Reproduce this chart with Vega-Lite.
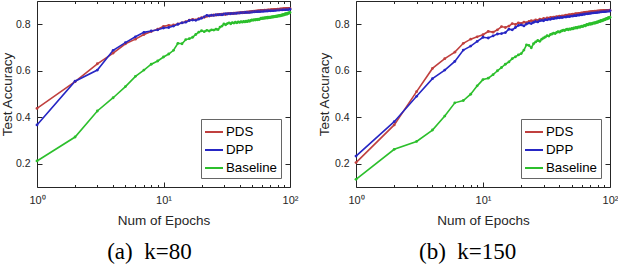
{
  "$schema": "https://vega.github.io/schema/vega-lite/v6.json",
  "padding": {"left": 0, "top": 0, "right": 0, "bottom": 0},
  "background": "white",
  "datasets": {
    "a": [
      {"e":1,"PDS":0.438,"DPP":0.367,"Baseline":0.212},
      {"e":2,"PDS":0.553,"DPP":0.555,"Baseline":0.315},
      {"e":3,"PDS":0.630,"DPP":0.603,"Baseline":0.427},
      {"e":4,"PDS":0.676,"DPP":0.688,"Baseline":0.484},
      {"e":5,"PDS":0.716,"DPP":0.721,"Baseline":0.532},
      {"e":6,"PDS":0.736,"DPP":0.746,"Baseline":0.576},
      {"e":7,"PDS":0.756,"DPP":0.765,"Baseline":0.603},
      {"e":8,"PDS":0.769,"DPP":0.771,"Baseline":0.628},
      {"e":9,"PDS":0.779,"DPP":0.776,"Baseline":0.642},
      {"e":10,"PDS":0.791,"DPP":0.784,"Baseline":0.659},
      {"e":11,"PDS":0.795,"DPP":0.786,"Baseline":0.672},
      {"e":12,"PDS":0.797,"DPP":0.792,"Baseline":0.688},
      {"e":13,"PDS":0.801,"DPP":0.800,"Baseline":0.718},
      {"e":14,"PDS":0.806,"DPP":0.806,"Baseline":0.716},
      {"e":15,"PDS":0.811,"DPP":0.809,"Baseline":0.734},
      {"e":16,"PDS":0.818,"DPP":0.816,"Baseline":0.738},
      {"e":17,"PDS":0.821,"DPP":0.818,"Baseline":0.744},
      {"e":18,"PDS":0.819,"DPP":0.817,"Baseline":0.756},
      {"e":19,"PDS":0.824,"DPP":0.822,"Baseline":0.766},
      {"e":20,"PDS":0.828,"DPP":0.826,"Baseline":0.772},
      {"e":21,"PDS":0.830,"DPP":0.832,"Baseline":0.768},
      {"e":22,"PDS":0.834,"DPP":0.838,"Baseline":0.774},
      {"e":23,"PDS":0.836,"DPP":0.836,"Baseline":0.771},
      {"e":24,"PDS":0.838,"DPP":0.839,"Baseline":0.776},
      {"e":25,"PDS":0.840,"DPP":0.838,"Baseline":0.775},
      {"e":26,"PDS":0.839,"DPP":0.841,"Baseline":0.779},
      {"e":27,"PDS":0.842,"DPP":0.840,"Baseline":0.777},
      {"e":28,"PDS":0.841,"DPP":0.842,"Baseline":0.788},
      {"e":29,"PDS":0.843,"DPP":0.841,"Baseline":0.792},
      {"e":30,"PDS":0.844,"DPP":0.843,"Baseline":0.801},
      {"e":31,"PDS":0.842,"DPP":0.845,"Baseline":0.798},
      {"e":32,"PDS":0.846,"DPP":0.844,"Baseline":0.803},
      {"e":33,"PDS":0.845,"DPP":0.846,"Baseline":0.806},
      {"e":34,"PDS":0.847,"DPP":0.845,"Baseline":0.802},
      {"e":35,"PDS":0.846,"DPP":0.847,"Baseline":0.807},
      {"e":36,"PDS":0.848,"DPP":0.846,"Baseline":0.805},
      {"e":37,"PDS":0.847,"DPP":0.848,"Baseline":0.809},
      {"e":38,"PDS":0.849,"DPP":0.847,"Baseline":0.806},
      {"e":39,"PDS":0.848,"DPP":0.849,"Baseline":0.810},
      {"e":40,"PDS":0.850,"DPP":0.848,"Baseline":0.808},
      {"e":41,"PDS":0.849,"DPP":0.850,"Baseline":0.811},
      {"e":42,"PDS":0.851,"DPP":0.849,"Baseline":0.809},
      {"e":43,"PDS":0.850,"DPP":0.851,"Baseline":0.812},
      {"e":44,"PDS":0.852,"DPP":0.850,"Baseline":0.810},
      {"e":45,"PDS":0.851,"DPP":0.852,"Baseline":0.813},
      {"e":46,"PDS":0.853,"DPP":0.851,"Baseline":0.811},
      {"e":47,"PDS":0.852,"DPP":0.852,"Baseline":0.815},
      {"e":48,"PDS":0.854,"DPP":0.851,"Baseline":0.813},
      {"e":49,"PDS":0.853,"DPP":0.853,"Baseline":0.816},
      {"e":50,"PDS":0.855,"DPP":0.852,"Baseline":0.819},
      {"e":51,"PDS":0.854,"DPP":0.854,"Baseline":0.817},
      {"e":52,"PDS":0.856,"DPP":0.853,"Baseline":0.820},
      {"e":53,"PDS":0.855,"DPP":0.855,"Baseline":0.818},
      {"e":54,"PDS":0.857,"DPP":0.854,"Baseline":0.821},
      {"e":55,"PDS":0.856,"DPP":0.855,"Baseline":0.819},
      {"e":56,"PDS":0.858,"DPP":0.855,"Baseline":0.822},
      {"e":57,"PDS":0.857,"DPP":0.856,"Baseline":0.820},
      {"e":58,"PDS":0.858,"DPP":0.855,"Baseline":0.823},
      {"e":59,"PDS":0.859,"DPP":0.857,"Baseline":0.826},
      {"e":60,"PDS":0.858,"DPP":0.856,"Baseline":0.824},
      {"e":61,"PDS":0.860,"DPP":0.857,"Baseline":0.827},
      {"e":62,"PDS":0.859,"DPP":0.856,"Baseline":0.825},
      {"e":63,"PDS":0.861,"DPP":0.858,"Baseline":0.828},
      {"e":64,"PDS":0.860,"DPP":0.857,"Baseline":0.826},
      {"e":65,"PDS":0.861,"DPP":0.858,"Baseline":0.829},
      {"e":66,"PDS":0.860,"DPP":0.857,"Baseline":0.827},
      {"e":67,"PDS":0.862,"DPP":0.859,"Baseline":0.830},
      {"e":68,"PDS":0.861,"DPP":0.858,"Baseline":0.828},
      {"e":69,"PDS":0.862,"DPP":0.859,"Baseline":0.831},
      {"e":70,"PDS":0.861,"DPP":0.858,"Baseline":0.829},
      {"e":71,"PDS":0.863,"DPP":0.860,"Baseline":0.832},
      {"e":72,"PDS":0.862,"DPP":0.859,"Baseline":0.830},
      {"e":73,"PDS":0.863,"DPP":0.860,"Baseline":0.833},
      {"e":74,"PDS":0.862,"DPP":0.859,"Baseline":0.831},
      {"e":75,"PDS":0.864,"DPP":0.860,"Baseline":0.834},
      {"e":76,"PDS":0.863,"DPP":0.861,"Baseline":0.832},
      {"e":77,"PDS":0.864,"DPP":0.860,"Baseline":0.835},
      {"e":78,"PDS":0.863,"DPP":0.861,"Baseline":0.833},
      {"e":79,"PDS":0.864,"DPP":0.862,"Baseline":0.836},
      {"e":80,"PDS":0.865,"DPP":0.861,"Baseline":0.834},
      {"e":81,"PDS":0.864,"DPP":0.862,"Baseline":0.837},
      {"e":82,"PDS":0.865,"DPP":0.861,"Baseline":0.835},
      {"e":83,"PDS":0.864,"DPP":0.862,"Baseline":0.838},
      {"e":84,"PDS":0.866,"DPP":0.863,"Baseline":0.836},
      {"e":85,"PDS":0.865,"DPP":0.862,"Baseline":0.839},
      {"e":86,"PDS":0.866,"DPP":0.863,"Baseline":0.838},
      {"e":87,"PDS":0.865,"DPP":0.862,"Baseline":0.841},
      {"e":88,"PDS":0.866,"DPP":0.863,"Baseline":0.839},
      {"e":89,"PDS":0.867,"DPP":0.864,"Baseline":0.842},
      {"e":90,"PDS":0.866,"DPP":0.863,"Baseline":0.840},
      {"e":91,"PDS":0.867,"DPP":0.864,"Baseline":0.843},
      {"e":92,"PDS":0.866,"DPP":0.863,"Baseline":0.845},
      {"e":93,"PDS":0.867,"DPP":0.864,"Baseline":0.843},
      {"e":94,"PDS":0.868,"DPP":0.865,"Baseline":0.846},
      {"e":95,"PDS":0.867,"DPP":0.864,"Baseline":0.844},
      {"e":96,"PDS":0.868,"DPP":0.865,"Baseline":0.847},
      {"e":97,"PDS":0.867,"DPP":0.864,"Baseline":0.849},
      {"e":98,"PDS":0.868,"DPP":0.865,"Baseline":0.847},
      {"e":99,"PDS":0.867,"DPP":0.866,"Baseline":0.850},
      {"e":100,"PDS":0.868,"DPP":0.865,"Baseline":0.851}
    ],
    "b": [
      {"e":1,"PDS":0.205,"DPP":0.233,"Baseline":0.133},
      {"e":2,"PDS":0.367,"DPP":0.381,"Baseline":0.262},
      {"e":3,"PDS":0.510,"DPP":0.490,"Baseline":0.296},
      {"e":4,"PDS":0.610,"DPP":0.566,"Baseline":0.345},
      {"e":5,"PDS":0.652,"DPP":0.603,"Baseline":0.405},
      {"e":6,"PDS":0.680,"DPP":0.640,"Baseline":0.462},
      {"e":7,"PDS":0.718,"DPP":0.689,"Baseline":0.472},
      {"e":8,"PDS":0.736,"DPP":0.706,"Baseline":0.499},
      {"e":9,"PDS":0.746,"DPP":0.726,"Baseline":0.535},
      {"e":10,"PDS":0.755,"DPP":0.744,"Baseline":0.562},
      {"e":11,"PDS":0.769,"DPP":0.741,"Baseline":0.568},
      {"e":12,"PDS":0.766,"DPP":0.750,"Baseline":0.583},
      {"e":13,"PDS":0.776,"DPP":0.758,"Baseline":0.600},
      {"e":14,"PDS":0.790,"DPP":0.760,"Baseline":0.614},
      {"e":15,"PDS":0.786,"DPP":0.764,"Baseline":0.628},
      {"e":16,"PDS":0.792,"DPP":0.779,"Baseline":0.638},
      {"e":17,"PDS":0.803,"DPP":0.776,"Baseline":0.652},
      {"e":18,"PDS":0.799,"DPP":0.786,"Baseline":0.660},
      {"e":19,"PDS":0.806,"DPP":0.795,"Baseline":0.668},
      {"e":20,"PDS":0.804,"DPP":0.797,"Baseline":0.674},
      {"e":21,"PDS":0.809,"DPP":0.793,"Baseline":0.689},
      {"e":22,"PDS":0.807,"DPP":0.801,"Baseline":0.711},
      {"e":23,"PDS":0.812,"DPP":0.805,"Baseline":0.709},
      {"e":24,"PDS":0.815,"DPP":0.803,"Baseline":0.699},
      {"e":25,"PDS":0.814,"DPP":0.808,"Baseline":0.716},
      {"e":26,"PDS":0.819,"DPP":0.812,"Baseline":0.724},
      {"e":27,"PDS":0.817,"DPP":0.810,"Baseline":0.730},
      {"e":28,"PDS":0.822,"DPP":0.815,"Baseline":0.727},
      {"e":29,"PDS":0.820,"DPP":0.817,"Baseline":0.736},
      {"e":30,"PDS":0.825,"DPP":0.815,"Baseline":0.741},
      {"e":31,"PDS":0.823,"DPP":0.820,"Baseline":0.745},
      {"e":32,"PDS":0.827,"DPP":0.819,"Baseline":0.751},
      {"e":33,"PDS":0.826,"DPP":0.822,"Baseline":0.749},
      {"e":34,"PDS":0.829,"DPP":0.821,"Baseline":0.756},
      {"e":35,"PDS":0.828,"DPP":0.825,"Baseline":0.758},
      {"e":36,"PDS":0.831,"DPP":0.824,"Baseline":0.762},
      {"e":37,"PDS":0.830,"DPP":0.827,"Baseline":0.760},
      {"e":38,"PDS":0.833,"DPP":0.826,"Baseline":0.765},
      {"e":39,"PDS":0.832,"DPP":0.829,"Baseline":0.768},
      {"e":40,"PDS":0.835,"DPP":0.828,"Baseline":0.766},
      {"e":41,"PDS":0.834,"DPP":0.830,"Baseline":0.770},
      {"e":42,"PDS":0.836,"DPP":0.829,"Baseline":0.772},
      {"e":43,"PDS":0.835,"DPP":0.831,"Baseline":0.775},
      {"e":44,"PDS":0.837,"DPP":0.832,"Baseline":0.773},
      {"e":45,"PDS":0.839,"DPP":0.831,"Baseline":0.777},
      {"e":46,"PDS":0.838,"DPP":0.833,"Baseline":0.779},
      {"e":47,"PDS":0.840,"DPP":0.834,"Baseline":0.776},
      {"e":48,"PDS":0.841,"DPP":0.833,"Baseline":0.780},
      {"e":49,"PDS":0.840,"DPP":0.835,"Baseline":0.778},
      {"e":50,"PDS":0.842,"DPP":0.836,"Baseline":0.782},
      {"e":51,"PDS":0.843,"DPP":0.835,"Baseline":0.780},
      {"e":52,"PDS":0.842,"DPP":0.837,"Baseline":0.784},
      {"e":53,"PDS":0.844,"DPP":0.838,"Baseline":0.783},
      {"e":54,"PDS":0.845,"DPP":0.837,"Baseline":0.786},
      {"e":55,"PDS":0.844,"DPP":0.839,"Baseline":0.784},
      {"e":56,"PDS":0.846,"DPP":0.840,"Baseline":0.787},
      {"e":57,"PDS":0.847,"DPP":0.839,"Baseline":0.789},
      {"e":58,"PDS":0.846,"DPP":0.841,"Baseline":0.787},
      {"e":59,"PDS":0.848,"DPP":0.842,"Baseline":0.790},
      {"e":60,"PDS":0.849,"DPP":0.841,"Baseline":0.792},
      {"e":61,"PDS":0.848,"DPP":0.843,"Baseline":0.790},
      {"e":62,"PDS":0.850,"DPP":0.844,"Baseline":0.793},
      {"e":63,"PDS":0.851,"DPP":0.843,"Baseline":0.795},
      {"e":64,"PDS":0.850,"DPP":0.845,"Baseline":0.793},
      {"e":65,"PDS":0.852,"DPP":0.846,"Baseline":0.797},
      {"e":66,"PDS":0.851,"DPP":0.845,"Baseline":0.799},
      {"e":67,"PDS":0.852,"DPP":0.847,"Baseline":0.797},
      {"e":68,"PDS":0.853,"DPP":0.846,"Baseline":0.800},
      {"e":69,"PDS":0.852,"DPP":0.848,"Baseline":0.802},
      {"e":70,"PDS":0.854,"DPP":0.847,"Baseline":0.800},
      {"e":71,"PDS":0.853,"DPP":0.849,"Baseline":0.803},
      {"e":72,"PDS":0.854,"DPP":0.848,"Baseline":0.801},
      {"e":73,"PDS":0.855,"DPP":0.850,"Baseline":0.804},
      {"e":74,"PDS":0.854,"DPP":0.849,"Baseline":0.806},
      {"e":75,"PDS":0.855,"DPP":0.851,"Baseline":0.804},
      {"e":76,"PDS":0.856,"DPP":0.850,"Baseline":0.807},
      {"e":77,"PDS":0.855,"DPP":0.851,"Baseline":0.805},
      {"e":78,"PDS":0.856,"DPP":0.852,"Baseline":0.808},
      {"e":79,"PDS":0.855,"DPP":0.851,"Baseline":0.810},
      {"e":80,"PDS":0.857,"DPP":0.852,"Baseline":0.808},
      {"e":81,"PDS":0.856,"DPP":0.853,"Baseline":0.811},
      {"e":82,"PDS":0.857,"DPP":0.852,"Baseline":0.813},
      {"e":83,"PDS":0.856,"DPP":0.853,"Baseline":0.811},
      {"e":84,"PDS":0.858,"DPP":0.854,"Baseline":0.814},
      {"e":85,"PDS":0.857,"DPP":0.853,"Baseline":0.816},
      {"e":86,"PDS":0.858,"DPP":0.854,"Baseline":0.814},
      {"e":87,"PDS":0.857,"DPP":0.855,"Baseline":0.817},
      {"e":88,"PDS":0.858,"DPP":0.854,"Baseline":0.819},
      {"e":89,"PDS":0.859,"DPP":0.855,"Baseline":0.817},
      {"e":90,"PDS":0.858,"DPP":0.856,"Baseline":0.820},
      {"e":91,"PDS":0.859,"DPP":0.855,"Baseline":0.822},
      {"e":92,"PDS":0.858,"DPP":0.856,"Baseline":0.820},
      {"e":93,"PDS":0.859,"DPP":0.857,"Baseline":0.823},
      {"e":94,"PDS":0.860,"DPP":0.856,"Baseline":0.825},
      {"e":95,"PDS":0.859,"DPP":0.857,"Baseline":0.823},
      {"e":96,"PDS":0.860,"DPP":0.858,"Baseline":0.826},
      {"e":97,"PDS":0.859,"DPP":0.857,"Baseline":0.828},
      {"e":98,"PDS":0.860,"DPP":0.858,"Baseline":0.826},
      {"e":99,"PDS":0.861,"DPP":0.857,"Baseline":0.829},
      {"e":100,"PDS":0.860,"DPP":0.858,"Baseline":0.830}
    ]
  },
  "spacing": 17,
  "resolve": {"legend": {"color": "independent"}, "scale": {"color": "independent"}},
  "hconcat": [
    {
      "width": 253,
      "height": 186,
      "data": {"name": "a"},
      "transform": [{"fold": ["PDS", "DPP", "Baseline"], "as": ["method", "acc"]}],
      "title": {"text": "(a)\u2002k=80", "orient": "bottom", "anchor": "middle", "frame": "bounds", "font": "Liberation Serif", "fontSize": 23, "fontWeight": "normal", "color": "black", "offset": 14},
      "layer": [
        {
          "mark": {"type": "line", "strokeWidth": 1.6, "point": {"filled": true, "size": 8}},
          "encoding": {
            "x": {"field": "e", "type": "quantitative", "scale": {"type": "log", "domain": [1, 100]},
              "axis": {"orient": "bottom", "title": "Num of Epochs", "values": [1,2,3,4,5,6,7,8,9,10,20,30,40,50,60,70,80,90,100],
                "labelExpr": "datum.value == 1 ? '10⁰' : datum.value == 10 ? '10¹' : datum.value == 100 ? '10²' : ''",
                "labelOverlap": false, "labelFlush": false, "labelPadding": 12, "labelFontSize": 11, "titlePadding": 6,
                "tickSize": {"condition": {"test": "datum.value == 1 || datum.value == 10 || datum.value == 100", "value": -5}, "value": -2.5}}},
            "y": {"field": "acc", "type": "quantitative", "scale": {"domain": [0.1, 0.9]},
              "axis": {"orient": "left", "title": "Test Accuracy", "values": [0.2, 0.4, 0.6, 0.8], "format": ".1f", "tickSize": -5, "labelPadding": 12, "titlePadding": 0.5}},
            "color": {"field": "method", "type": "nominal", "scale": {"domain": ["PDS", "DPP", "Baseline"], "range": ["#c0403f", "#2626c4", "#2cbf2c"]},
              "legend": {"title": null, "orient": "bottom-right", "offset": 9, "symbolType": "stroke", "symbolSize": 324, "symbolStrokeWidth": 2, "labelFontSize": 13.3, "labelFont": "Liberation Sans", "labelColor": "black", "strokeColor": "#666666", "fillColor": "white", "padding": 3, "rowPadding": 1, "labelOffset": 2}}
          }
        },
        {
          "mark": {"type": "point", "opacity": 0},
          "encoding": {
            "x": {"field": "e", "type": "quantitative", "scale": {"type": "log", "domain": [1, 100]},
              "axis": {"orient": "top", "title": null, "labels": false, "values": [1,2,3,4,5,6,7,8,9,10,20,30,40,50,60,70,80,90,100],
                "tickSize": {"condition": {"test": "datum.value == 1 || datum.value == 10 || datum.value == 100", "value": -5}, "value": -2.5}}},
            "y": {"field": "acc", "type": "quantitative", "scale": {"domain": [0.1, 0.9]},
              "axis": {"orient": "right", "title": null, "labels": false, "values": [0.2, 0.4, 0.6, 0.8], "tickSize": -5}}
          }
        }
      ],
      "resolve": {"axis": {"x": "independent", "y": "independent"}}
    },
    {
      "width": 254,
      "height": 186,
      "data": {"name": "b"},
      "transform": [{"fold": ["PDS", "DPP", "Baseline"], "as": ["method", "acc"]}],
      "title": {"text": "(b)\u2002k=150", "orient": "bottom", "anchor": "middle", "frame": "bounds", "font": "Liberation Serif", "fontSize": 23, "fontWeight": "normal", "color": "black", "offset": 14},
      "layer": [
        {
          "mark": {"type": "line", "strokeWidth": 1.6, "point": {"filled": true, "size": 8}},
          "encoding": {
            "x": {"field": "e", "type": "quantitative", "scale": {"type": "log", "domain": [1, 100]},
              "axis": {"orient": "bottom", "title": "Num of Epochs", "values": [1,2,3,4,5,6,7,8,9,10,20,30,40,50,60,70,80,90,100],
                "labelExpr": "datum.value == 1 ? '10⁰' : datum.value == 10 ? '10¹' : datum.value == 100 ? '10²' : ''",
                "labelOverlap": false, "labelFlush": false, "labelPadding": 12, "labelFontSize": 11, "titlePadding": 6,
                "tickSize": {"condition": {"test": "datum.value == 1 || datum.value == 10 || datum.value == 100", "value": -5}, "value": -2.5}}},
            "y": {"field": "acc", "type": "quantitative", "scale": {"domain": [0.1, 0.9]},
              "axis": {"orient": "left", "title": "Test Accuracy", "values": [0.2, 0.4, 0.6, 0.8], "format": ".1f", "tickSize": -5, "labelPadding": 12, "titlePadding": 3}},
            "color": {"field": "method", "type": "nominal", "scale": {"domain": ["PDS", "DPP", "Baseline"], "range": ["#c0403f", "#2626c4", "#2cbf2c"]},
              "legend": {"title": null, "orient": "bottom-right", "offset": 9, "symbolType": "stroke", "symbolSize": 324, "symbolStrokeWidth": 2, "labelFontSize": 13.3, "labelFont": "Liberation Sans", "labelColor": "black", "strokeColor": "#666666", "fillColor": "white", "padding": 3, "rowPadding": 1, "labelOffset": 2}}
          }
        },
        {
          "mark": {"type": "point", "opacity": 0},
          "encoding": {
            "x": {"field": "e", "type": "quantitative", "scale": {"type": "log", "domain": [1, 100]},
              "axis": {"orient": "top", "title": null, "labels": false, "values": [1,2,3,4,5,6,7,8,9,10,20,30,40,50,60,70,80,90,100],
                "tickSize": {"condition": {"test": "datum.value == 1 || datum.value == 10 || datum.value == 100", "value": -5}, "value": -2.5}}},
            "y": {"field": "acc", "type": "quantitative", "scale": {"domain": [0.1, 0.9]},
              "axis": {"orient": "right", "title": null, "labels": false, "values": [0.2, 0.4, 0.6, 0.8], "tickSize": -5}}
          }
        }
      ],
      "resolve": {"axis": {"x": "independent", "y": "independent"}}
    }
  ],
  "config": {
    "view": {"stroke": "#262626", "strokeWidth": 1},
    "axis": {"grid": false, "domain": false, "tickColor": "#262626", "tickWidth": 1, "labelFont": "Liberation Sans", "labelFontSize": 10.5, "labelColor": "#262626", "titleFont": "Liberation Sans", "titleFontSize": 13.5, "titleFontWeight": "normal", "titleColor": "#262626"},
    "point": {"size": 8}
  }
}
